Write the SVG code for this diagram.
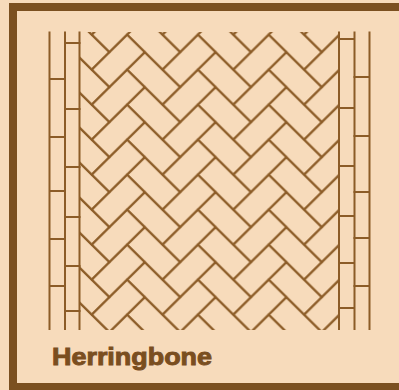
<svg xmlns="http://www.w3.org/2000/svg" xmlns:xlink="http://www.w3.org/1999/xlink" width="399" height="390" viewBox="0 0 399 390">
  <defs>
    <style>
      .brick { fill: none; stroke: #8c5c27; stroke-width: 2; stroke-linejoin: miter; }
      .edge { fill: none; stroke: #8c5c27; stroke-width: 2; stroke-linecap: butt; }
      .frame { fill: none; stroke: #7b5020; stroke-width: 8; }
      .title { font-family: "Liberation Sans", Arial, sans-serif; font-weight: bold; font-size: 23px; fill: #7a4e1f; stroke: #7a4e1f; stroke-width: 0.9; }
    </style>
    <!-- one repeat unit: a "\" brick and the "/" brick below it (step 17.7 x 17.5) -->
    <g id="pair">
      <path class="brick" d="M0,0 L35.4,35 L17.7,52.5 L-17.7,17.5 Z"/>
      <path class="brick" d="M-17.7,17.5 L0,35 L-35.4,70 L-53.1,52.5 Z"/>
    </g>
    <pattern id="herringbone" patternUnits="userSpaceOnUse" x="3.2" y="17.15" width="70.8" height="35">
      <use xlink:href="#pair" x="0" y="-70"/>
      <use xlink:href="#pair" x="0" y="-35"/>
      <use xlink:href="#pair" x="0" y="0"/>
      <use xlink:href="#pair" x="0" y="35"/>
      <use xlink:href="#pair" x="70.8" y="-70"/>
      <use xlink:href="#pair" x="70.8" y="-35"/>
      <use xlink:href="#pair" x="70.8" y="0"/>
      <use xlink:href="#pair" x="70.8" y="35"/>
    </pattern>
  </defs>

  <!-- paper -->
  <rect x="0" y="0" width="399" height="390" fill="#f7dbbb"/>

  <!-- outer frame (open on the right) -->
  <rect class="frame" x="13" y="7" width="400" height="380"/>

  <!-- herringbone field -->
  <g id="field">
    <rect x="80" y="32" width="259" height="298" fill="url(#herringbone)"/>
  </g>

  <!-- soldier course, left -->
  <g id="border-left">
    <path class="edge" d="M49.5,31.5 V330 M65,31.5 V330 M79.5,31.5 V330"/>
    <path class="edge" d="M49,79 H66 M49,137 H66 M49,191 H66 M49,239 H66 M49,286 H66"/>
    <path class="edge" d="M64,43 H80.5 M64,109 H80.5 M64,167 H80.5 M64,217 H80.5 M64,266 H80.5 M64,311 H80.5"/>
  </g>

  <!-- soldier course, right -->
  <g id="border-right">
    <path class="edge" d="M339,31.5 V330 M354.5,31.5 V330 M369.5,31.5 V330"/>
    <path class="edge" d="M338,39 H355 M338,108 H355 M338,166 H355 M338,216 H355 M338,263 H355 M338,308 H355"/>
    <path class="edge" d="M353.5,77 H370 M353.5,136 H370 M353.5,192 H370 M353.5,238 H370 M353.5,286 H370"/>
  </g>

  <g id="caption">
    <text class="title" x="52" y="365" textLength="160" lengthAdjust="spacingAndGlyphs">Herringbone</text>
  </g>
</svg>
